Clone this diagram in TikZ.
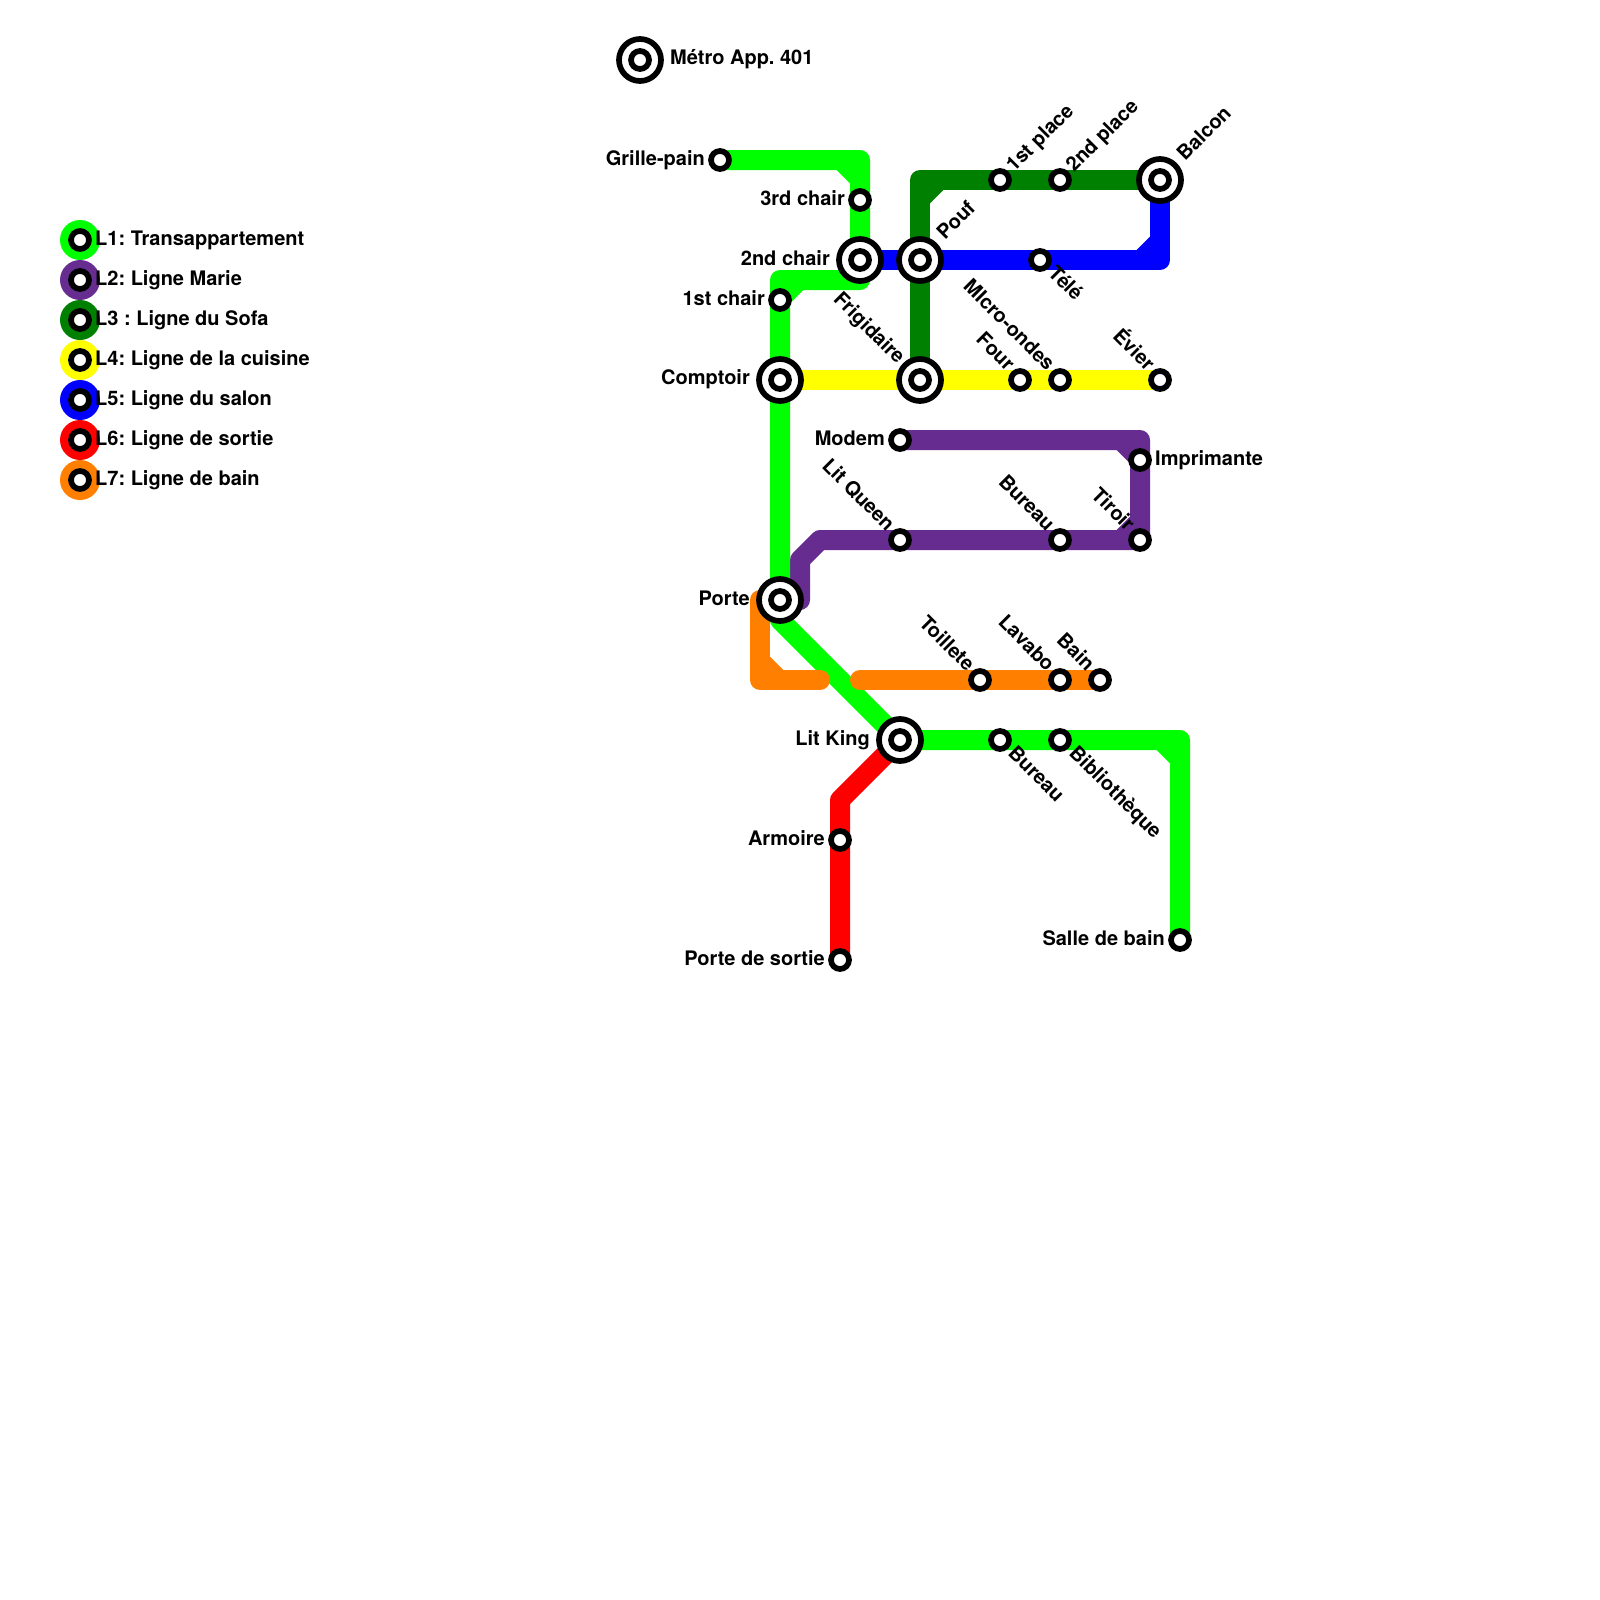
\documentclass[tikz,border=0pt]{standalone}
\usepackage{fontspec}
\setmainfont{TeX Gyre Heros}
\frenchspacing
\definecolor{lgreen}{HTML}{00FF00}
\definecolor{lpurple}{HTML}{662C90}
\definecolor{ldark}{HTML}{008000}
\definecolor{lyellow}{HTML}{FFFF00}
\definecolor{lblue}{HTML}{0000FF}
\definecolor{lred}{HTML}{FF0000}
\definecolor{lorange}{HTML}{FF8000}
\pgfdeclarelayer{bg}
\pgfsetlayers{bg,main}
\tikzset{
  stn/.style={circle,draw=black,fill=white,line width=5.7pt,minimum size=18pt,inner sep=0pt},
  hubring/.style={circle,draw=black,fill=white,line width=5.7pt,minimum size=42pt,inner sep=0pt},
  lline/.style={line width=20pt,line cap=round,line join=round},
  lbl/.style={font=\fontsize{20}{20}\selectfont\bfseries,inner sep=0pt,text=black},
  legdisk/.style={circle,minimum size=40pt,inner sep=0pt},
}
\newcommand{\hubst}[3]{\node[hubring] (#1) at (#2,#3) {};\node[stn] (#1i) at (#2,#3) {};}
\newcommand{\cham}[7]{\fill[#1] (#2,#3) -- (#4,#5) -- (#6,#7) -- cycle;}
\begin{document}
\begin{tikzpicture}[x=1pt,y=-1pt]
\useasboundingbox (0,0) rectangle (1600,1600);
% stations
\node[stn] (grille) at (720,160) {};
\node[stn] (chair3) at (860,200) {};
\hubst{chair2}{860}{260}
\node[stn] (chair1) at (780,300) {};
\hubst{comptoir}{780}{380}
\hubst{porte}{780}{600}
\hubst{litking}{900}{740}
\node[stn] (bureauB) at (1000,740) {};
\node[stn] (biblio) at (1060,740) {};
\node[stn] (salle) at (1180,940) {};
\hubst{pouf}{920}{260}
\node[stn] (place1) at (1000,180) {};
\node[stn] (place2) at (1060,180) {};
\hubst{balcon}{1160}{180}
\node[stn] (tele) at (1040,260) {};
\hubst{frigo}{920}{380}
\node[stn] (four) at (1020,380) {};
\node[stn] (micro) at (1060,380) {};
\node[stn] (evier) at (1160,380) {};
\node[stn] (modem) at (900,440) {};
\node[stn] (impr) at (1140,460) {};
\node[stn] (tiroir) at (1140,540) {};
\node[stn] (bureauA) at (1060,540) {};
\node[stn] (queen) at (900,540) {};
\node[stn] (toil) at (980,680) {};
\node[stn] (lavabo) at (1060,680) {};
\node[stn] (bain) at (1100,680) {};
\node[stn] (armoire) at (840,840) {};
\node[stn] (sortie) at (840,960) {};
\hubst{metro}{640}{60}
% bends
\coordinate (g1) at (860,160);
\coordinate (g2) at (860,280);
\coordinate (g3) at (780,280);
\coordinate (g4) at (780,620);
\coordinate (g5) at (1180,740);
\coordinate (d1) at (920,180);
\coordinate (b1) at (1160,260);
\coordinate (p1) at (1140,440);
\coordinate (p2) at (820,540);
\coordinate (p3) at (800,560);
\coordinate (p4) at (800,600);
\coordinate (r1) at (840,800);
\coordinate (o1) at (760,600);
\coordinate (o2) at (760,680);
\coordinate (o3) at (820,680);
\coordinate (o4) at (860,680);
\begin{pgfonlayer}{bg}
\draw[lline,ldark] (frigo.center) -- (pouf.center) -- (d1) -- (place1.center) -- (place2.center) -- (balcon.center);
\cham{ldark}{930}{190}{943.3}{190}{930}{203.3}
\draw[lline,lblue] (chair2.center) -- (pouf.center) -- (tele.center) -- (b1) -- (balcon.center);
\cham{lblue}{1150}{250}{1136.7}{250}{1150}{236.7}
\draw[lline,lyellow] (comptoir.center) -- (frigo.center) -- (four.center) -- (micro.center) -- (evier.center);
\draw[lline,lpurple] (modem.center) -- (p1) -- (impr.center) -- (tiroir.center) -- (bureauA.center) -- (queen.center) -- (p2) -- (p3) -- (p4);
\cham{lpurple}{1130}{450}{1116.7}{450}{1130}{463.3}
\cham{lpurple}{1130}{530}{1116.7}{530}{1130}{516.7}
\draw[lline,lred] (litking.center) -- (r1) -- (armoire.center) -- (sortie.center);
\draw[lline,lgreen] (grille.center) -- (g1) -- (chair3.center) -- (chair2.center) -- (g2) -- (g3) -- (chair1.center) -- (comptoir.center) -- (porte.center) -- (g4) -- (litking.center) -- (bureauB.center) -- (biblio.center) -- (g5) -- (salle.center);
\cham{lgreen}{850}{170}{836.7}{170}{850}{183.3}
\cham{lgreen}{790}{290}{803.3}{290}{790}{303.3}
\cham{lgreen}{1170}{750}{1156.7}{750}{1170}{763.3}
\draw[lline,lorange] (o1) -- (o2) -- (o3);
\cham{lorange}{770}{670}{783.3}{670}{770}{656.7}
\draw[lline,lorange] (o4) -- (toil.center) -- (lavabo.center) -- (bain.center);
\end{pgfonlayer}
% left labels
\node[lbl,anchor=base east] (tgrille) at (705,165) {Grille-pain};
\node[lbl,anchor=base east] (tchair3) at (845,205) {3rd chair};
\node[lbl,anchor=base east] (tchair2) at (830,265) {2nd chair};
\node[lbl,anchor=base east] (tchair1) at (765,305) {1st chair};
\node[lbl,anchor=base east] (tcomptoir) at (750,384.5) {Comptoir};
\node[lbl,anchor=base east] (tmodem) at (885,445) {Modem};
\node[lbl,anchor=base east] (tporte) at (750,605) {Porte};
\node[lbl,anchor=base east] (tking) at (870,745) {Lit King};
\node[lbl,anchor=base east] (tarmoire) at (825,845) {Armoire};
\node[lbl,anchor=base east] (tsortie) at (825,965) {Porte de sortie};
\node[lbl,anchor=base east] (tsalle) at (1165,945) {Salle de bain};
% right labels
\node[lbl,anchor=base west] (tmetro) at (670,65) {Métro App. 401};
\node[lbl,anchor=base west] (timpr) at (1155,465) {Imprimante};
% NE labels
\node[lbl,anchor=base west,rotate=45] (tplace1) at (1014,173) {1st place};
\node[lbl,anchor=base west,rotate=45] (tplace2) at (1074,173) {2nd place};
\node[lbl,anchor=base west,rotate=45] (tbalcon) at (1185,162) {Balcon};
\node[lbl,anchor=base west,rotate=45] (tpouf) at (945,241) {Pouf};
% SE labels
\node[lbl,anchor=base west,rotate=-45] (ttele) at (1047,274) {Télé};
\node[lbl,anchor=base west,rotate=-45] (tbureauB) at (1007,754) {Bureau};
\node[lbl,anchor=base west,rotate=-45] (tbiblio) at (1068,754) {Bibliothèque};
% NW labels
\node[lbl,anchor=base east,rotate=-45] (tfrigo) at (897,365) {Frigidaire};
\node[lbl,anchor=base east,rotate=-45] (tfour) at (1006.5,372) {Four};
\node[lbl,anchor=base east,rotate=-45] (tmicro) at (1046.5,372) {MIcro-ondes};
\node[lbl,anchor=base east,rotate=-45] (tevier) at (1146.5,372) {Évier};
\node[lbl,anchor=base east,rotate=-45] (tqueen) at (886.5,532.5) {Lit Queen};
\node[lbl,anchor=base east,rotate=-45] (tbureauA) at (1046.5,532.5) {Bureau};
\node[lbl,anchor=base east,rotate=-45] (ttiroir) at (1126.5,532.5) {Tiroir};
\node[lbl,anchor=base east,rotate=-45] (ttoil) at (966.5,672.5) {Toillete};
\node[lbl,anchor=base east,rotate=-45] (tlavabo) at (1046.5,672.5) {Lavabo};
\node[lbl,anchor=base east,rotate=-45] (tbain) at (1086.5,672.5) {Bain};
% legend
\foreach \n/\c/\y/\t in {1/lgreen/240/{L1: Transappartement},2/lpurple/280/{L2: Ligne Marie},3/ldark/320/{L3 : Ligne du Sofa},4/lyellow/360/{L4: Ligne de la cuisine},5/lblue/400/{L5: Ligne du salon},6/lred/440/{L6: Ligne de sortie},7/lorange/480/{L7: Ligne de bain}}{
  \node[legdisk,fill=\c] (leg\n) at (80,\y) {};
  \node[stn] (legs\n) at (80,\y) {};
  \node[lbl,anchor=base west] (legt\n) at (95,\y+5) {\t};
}
\end{tikzpicture}
\end{document}
